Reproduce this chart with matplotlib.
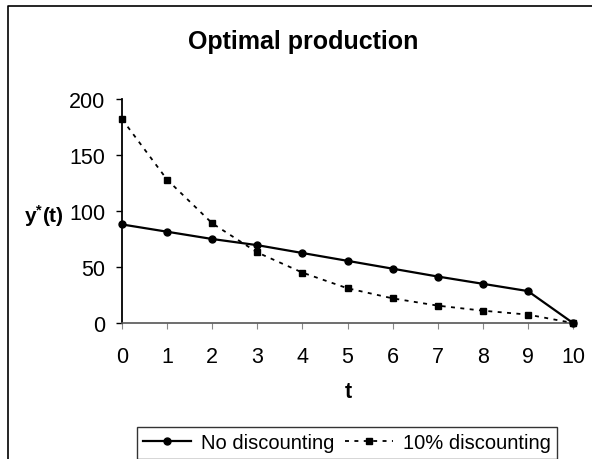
"""
plot.py - Optimal production chart.

Purpose:
  Redraw the "Optimal production" line chart comparing
  the no-discounting path with the 10% discounting path.
"""

import matplotlib

matplotlib.use("Agg")

import matplotlib.pyplot as plt
from matplotlib.lines import Line2D

# DATA
periods = [0, 1, 2, 3, 4, 5, 6, 7, 8, 9, 10]
no_discounting = [88, 81.5, 75, 69.5, 62.5, 55.5, 48.5, 41.5, 35, 28.5, 0]
ten_pct_discounting = [182, 128, 89, 63, 45, 31, 22, 15.5, 11, 7.5, 0]

y_ticks = [0, 50, 100, 150, 200]

TITLE = "Optimal production"
SERIES_LABELS = ["No discounting", "10% discounting"]

OUT_FILE = "out.png"


def main() -> None:
    """Build and save the chart."""
    plt.rcParams["font.family"] = ["Liberation Sans", "DejaVu Sans"]
    plt.rcParams["mathtext.fontset"] = "custom"
    plt.rcParams["mathtext.rm"] = "Liberation Sans"
    plt.rcParams["mathtext.bf"] = "Liberation Sans:bold"

    W, H = 592, 460
    fig = plt.figure(figsize=(W / 100, H / 100), dpi=100)

    # axes placed to match the pixel layout of the original
    ax = fig.add_axes([122 / W, 1 - 324 / H, (573 - 122) / W, (324 - 100) / H])

    ax.plot(
        periods, no_discounting,
        color="black", lw=1.6, marker="o", markersize=5,
        label=SERIES_LABELS[0], clip_on=False, zorder=3,
    )
    ax.plot(
        periods, ten_pct_discounting,
        color="black", lw=1.3, dashes=(2.2, 3.0), marker="s", markersize=5,
        label=SERIES_LABELS[1], clip_on=False, zorder=3,
    )

    ax.set_xlim(0, 10)
    ax.set_ylim(0, 200)
    ax.set_xticks(periods)
    ax.set_yticks(y_ticks)

    ax.spines["top"].set_visible(False)
    ax.spines["right"].set_visible(False)
    ax.spines["left"].set_linewidth(1.3)
    ax.spines["bottom"].set_color("#555555")
    ax.spines["bottom"].set_linewidth(1.2)

    ax.tick_params(axis="y", direction="out", length=4, width=1, pad=8, labelsize=15.5)
    ax.tick_params(axis="x", direction="out", length=4.5, width=0.8, color="#888888",
                   pad=12, labelsize=15.5)

    # text
    fig.text(303 / W, 1 - 42 / H, TITLE, ha="center", va="center",
             fontsize=18, fontweight="bold")
    fig.text(348 / W, 1 - 393 / H, "t", ha="center", va="center",
             fontsize=15.5, fontweight="bold")
    fig.text(44 / W, 1 - 216 / H, r"$\mathbf{y^{*}(t)}$", ha="center", va="center",
             fontsize=15)

    # outer chart border (cut off on the right and bottom in the original)
    fig.add_artist(Line2D([8 / W, 8 / W, 1], [0, 1 - 7 / H, 1 - 7 / H],
                          transform=fig.transFigure, color="black", lw=1.2))

    leg = fig.legend(
        loc="center", bbox_to_anchor=(347 / W, 1 - 444 / H), ncol=2,
        fontsize=14.5, frameon=True, fancybox=False, edgecolor="black",
        handlelength=2.4, handletextpad=0.5, columnspacing=0.5,
        borderpad=0.3, borderaxespad=0,
    )
    leg.get_frame().set_linewidth(1.0)

    fig.savefig(OUT_FILE, dpi=100, facecolor="white")
    plt.close(fig)


if __name__ == "__main__":
    main()
